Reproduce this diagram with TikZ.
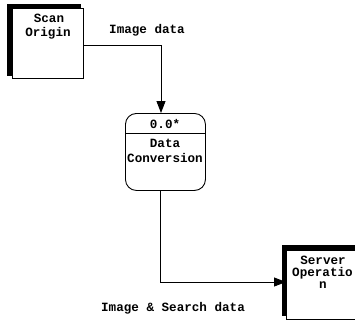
\documentclass[tikz,border=0pt]{standalone}
\usepackage{fontspec}
\setmonofont{Liberation Mono}
\usetikzlibrary{arrows.meta}
\tikzset{
  lbl/.style={font=\ttfamily\bfseries\fontsize{12.6}{14}\selectfont, inner sep=0pt},
  flow/.style={line width=0.9pt, -{Triangle[length=12pt,width=9pt]}},
  entity/.style={draw, line width=0.9pt, fill=white, inner sep=0pt},
}
\begin{document}
\begin{tikzpicture}[x=1pt,y=-1pt]
\useasboundingbox (0,0) rectangle (355,322);

% external entity: Scan Origin (dark offset edge on the left and top)
\fill (7,4) rectangle (81,76);
\node[entity, minimum width=71pt, minimum height=70pt, anchor=north west] (scan) at (12,8) {};
\node[lbl] (scant) at (49,18) {Scan};
\node[lbl] (scano) at (48,33) {Origin};

% process: Data Conversion
\node[draw, line width=0.9pt, rounded corners=11pt, minimum width=80pt, minimum height=77pt,
      anchor=north west, inner sep=0pt] (proc) at (125,113) {};
\draw[line width=0.9pt] (125,133) coordinate (divl) -- (205,133) coordinate (divr);
\node[lbl] (pid) at (165,124) {0.0*};
\node[lbl] (pn1) at (165,143) {Data};
\node[lbl] (pn2) at (165,158) {Conversion};

% external entity: Server Operation
\fill (282,245) rectangle (362,316);
\node[entity, minimum width=80pt, minimum height=69pt, anchor=north west] (server) at (286,250) {};
\node[lbl] (sv1) at (323,260) {Server};
\node[lbl, anchor=west] (sv2) at (292,273) {Operatio};
\node[lbl] (sv3) at (323,285) {n};

% data flows
\coordinate (bend1) at (161,45);
\coordinate (bend2) at (160,282);
\draw[flow] (scan.east |- bend1) -- (bend1) -- (proc.north -| bend1);
\draw[flow] (proc.south -| bend2) -- (bend2) -- (server.west |- bend2);

% flow labels
\node[lbl] (f1) at (147,30) {Image data};
\node[lbl] (f2) at (173,308) {Image \& Search data};
\end{tikzpicture}
\end{document}
